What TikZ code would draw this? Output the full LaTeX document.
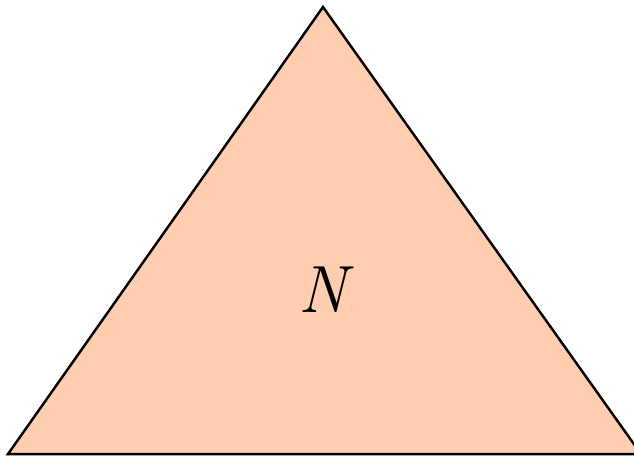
\documentclass[tikz,border=0pt]{standalone}
\definecolor{peach}{RGB}{255,205,175}
\tikzset{tri/.style={draw=black,fill=peach,line width=1.4pt,line join=miter}}
\begin{document}
\begin{tikzpicture}[x=0.02cm,y=-0.02cm]
\useasboundingbox (0,0) rectangle (634,458);
\coordinate (apex) at (323,7);
\coordinate (bl) at (8,454);
\coordinate (br) at (641,454);
\draw[tri] (apex) -- (bl) -- (br) -- cycle;
\node (n) at (323,290) {\fontsize{38}{40}\selectfont\itshape N};
\end{tikzpicture}
\end{document}
